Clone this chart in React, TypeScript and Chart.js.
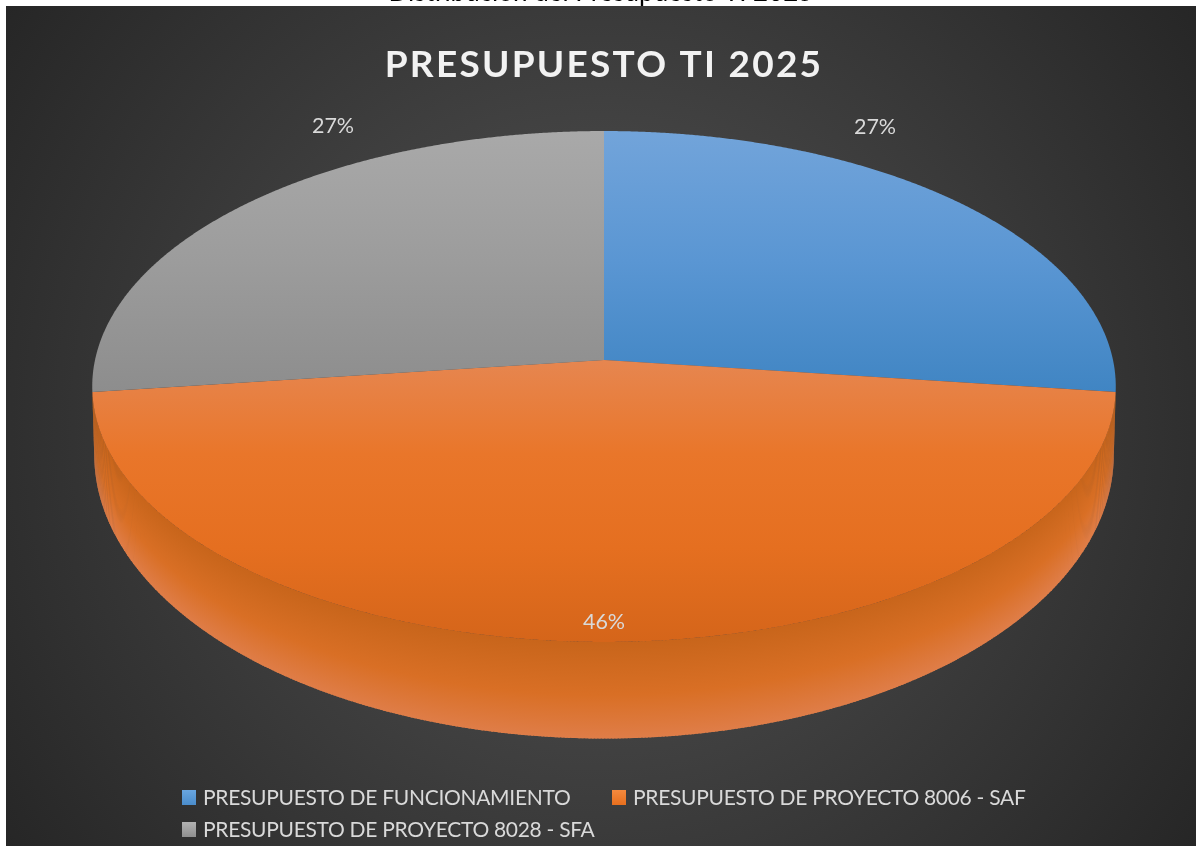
import React, { useEffect, useRef } from "react";
import { Chart, registerables } from "chart.js";

Chart.register(...registerables);

const categories = [
  "PRESUPUESTO DE FUNCIONAMIENTO",
  "PRESUPUESTO DE PROYECTO 8006 - SAF",
  "PRESUPUESTO DE PROYECTO 8028 - SFA",
];
const values = [27, 46, 27];
const baseColors = ["#5b9bd5", "#ed7d31", "#a5a5a5"];
const chartTitle = "PRESUPUESTO TI 2025";
const clippedHeading = "Distribución del Presupuesto TI 2025";

const W = 1196;
const H = 846;
const PANEL = 6;
// perspective disc geometry
const TOP = { R: 509, a: 252.7, k: -0.1037, y0: 360 };
const BOTTOM = { R: 507, a: 281, k: -0.1037, y0: 425 };
// part of the rim that faces the viewer, in ArcElement angles (0 = east, clockwise)
const SIDE_FROM = (7 * Math.PI) / 180;
const SIDE_TO = (173 * Math.PI) / 180;

type Plane = { R: number; a: number; k: number; y0: number };

function project(p: Plane, cx: number, theta: number, r = 1) {
  const X = Math.cos(theta) * r;
  const Y = Math.sin(theta) * r;
  const d = 1 + p.k * Y;
  return { x: cx + (p.R * X) / d, y: p.y0 + (p.a * Y) / d };
}

const faceStops: string[][] = [
  ["#72a4da", "#5a96d3", "#4085c3"],
  ["#e68650", "#e9762a", "#e56f20", "#d5651a"],
  ["#a9a9a9", "#9c9c9c", "#8d8d8d"],
];
const faceRange = [
  [131, 392],
  [360, 642],
  [131, 392],
];

const labelPos = [
  { dx: 271, y: 127 },
  { dx: 0, y: 622 },
  { dx: -271, y: 126 },
];

const legendPos = [
  { x: 182, y: 798 },
  { x: 612, y: 798 },
  { x: 182, y: 830 },
];
const swatchStops = [
  ["#69a6e0", "#4a8ccb"],
  ["#f58a3e", "#e76f1e"],
  ["#b2b2b2", "#8f8f8f"],
];

const disc3d = {
  id: "disc3d",
  beforeDraw(chart: any) {
    const ctx = chart.ctx as CanvasRenderingContext2D;
    ctx.save();
    ctx.fillStyle = "#ffffff";
    ctx.fillRect(0, 0, W, H);
    ctx.fillStyle = "#000000";
    ctx.font = "26px Lato";
    ctx.textAlign = "center";
    ctx.textBaseline = "alphabetic";
    ctx.fillText(clippedHeading, 601, 0.6);
    const bg = ctx.createRadialGradient(601, 426, 0, 601, 426, 730);
    bg.addColorStop(0, "#555555");
    bg.addColorStop(1, "#262626");
    ctx.fillStyle = bg;
    ctx.fillRect(PANEL, PANEL, W - PANEL, H - PANEL);
    ctx.restore();
    const tb = chart.titleBlock;
    if (tb && !tb.__spaced) {
      const orig = tb.draw.bind(tb);
      tb.draw = (...args: any[]) => {
        ctx.save();
        (ctx as any).letterSpacing = "2.25px";
        orig(...args);
        ctx.restore();
      };
      tb.__spaced = true;
    }
  },
  beforeDatasetsDraw(chart: any) {
    const ctx = chart.ctx as CanvasRenderingContext2D;
    const area = chart.chartArea;
    const cx = (area.left + area.right) / 2;
    const arcs = chart.getDatasetMeta(0).data;

    // side wall, only where it faces the viewer
    arcs.forEach((arc: any) => {
      const lo = Math.max(arc.startAngle, SIDE_FROM);
      const to = Math.min(arc.endAngle, SIDE_TO);
      if (to <= lo) return;
      const n = Math.ceil((to - lo) / 0.006);
      for (let i = 0; i < n; i++) {
        const t0 = lo + ((to - lo) * i) / n;
        const t1 = lo + ((to - lo) * Math.min(i + 1.6, n)) / n;
        const a0 = project(TOP, cx, t0);
        const a1 = project(TOP, cx, t1);
        const b0 = project(BOTTOM, cx, t0);
        const b1 = project(BOTTOM, cx, t1);
        const g = ctx.createLinearGradient(a0.x, a0.y, b0.x, b0.y);
        g.addColorStop(0, "#c8651b");
        g.addColorStop(0.55, "#d96f25");
        g.addColorStop(1, "#df7d48");
        ctx.fillStyle = g;
        ctx.beginPath();
        ctx.moveTo(a0.x, a0.y);
        ctx.lineTo(a1.x, a1.y);
        ctx.lineTo(b1.x, b1.y);
        ctx.lineTo(b0.x, b0.y);
        ctx.closePath();
        ctx.fill();
      }
    });

    // top face
    arcs.forEach((arc: any, i: number) => {
      const [y0, y1] = faceRange[i];
      const g = ctx.createLinearGradient(0, y0, 0, y1);
      faceStops[i].forEach((c, j) => g.addColorStop(j / (faceStops[i].length - 1), c));
      ctx.fillStyle = g;
      ctx.beginPath();
      const apex = project(TOP, cx, 0, 0);
      ctx.moveTo(apex.x, apex.y);
      const n = Math.ceil((arc.endAngle - arc.startAngle) / 0.004);
      for (let s = 0; s <= n; s++) {
        const p = project(TOP, cx, arc.startAngle + ((arc.endAngle - arc.startAngle) * s) / n);
        ctx.lineTo(p.x, p.y);
      }
      ctx.closePath();
      ctx.fill();
    });

    // data labels
    ctx.save();
    ctx.font = "21.5px Lato";
    ctx.fillStyle = "#d9d9d9";
    ctx.textAlign = "center";
    ctx.textBaseline = "middle";
    chart.data.datasets[0].data.forEach((v: number, i: number) => {
      ctx.fillText(`${v}%`, cx + labelPos[i].dx, labelPos[i].y);
    });
    ctx.restore();

    // legend
    ctx.save();
    ctx.font = "21px Lato";
    (ctx as any).letterSpacing = "-0.3px";
    ctx.textAlign = "left";
    ctx.textBaseline = "middle";
    chart.data.labels.forEach((label: string, i: number) => {
      const { x, y } = legendPos[i];
      const g = ctx.createLinearGradient(0, y - 8, 0, y + 7);
      g.addColorStop(0, swatchStops[i][0]);
      g.addColorStop(1, swatchStops[i][1]);
      ctx.fillStyle = g;
      ctx.fillRect(x, y - 8, 14, 15);
      ctx.fillStyle = "#d9d9d9";
      ctx.fillText(label, x + 21, y);
    });
    ctx.restore();
    return false;
  },
};

export default function App() {
  const ref = useRef<HTMLCanvasElement | null>(null);
  useEffect(() => {
    if (!ref.current) return;
    const chart = new Chart(ref.current, {
      type: "pie",
      data: {
        labels: categories,
        datasets: [{ data: values, backgroundColor: baseColors, borderWidth: 0 }],
      },
      options: {
        responsive: false,
        animation: false,
        layout: { padding: { left: 12 } },
        plugins: {
          legend: { display: false },
          tooltip: { enabled: false },
          title: {
            display: true,
            text: chartTitle,
            color: "#f2f2f2",
            font: { family: "Lato", size: 37, weight: "bold" },
            padding: { top: 43, bottom: 10 },
          },
        },
      },
      plugins: [disc3d],
    } as any);
    return () => chart.destroy();
  }, []);
  return (
    <div style={{ position: "fixed", left: 0, top: 0, width: W, height: H, background: "#fff" }}>
      <canvas ref={ref} width={W} height={H} style={{ display: "block" }} />
    </div>
  );
}
